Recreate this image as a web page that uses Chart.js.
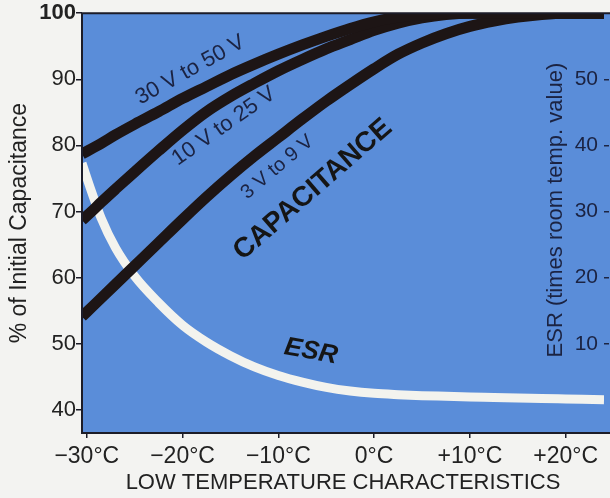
<!DOCTYPE html>
<html>
<head>
<meta charset="utf-8">
<script src="https://cdn.jsdelivr.net/npm/chart.js@4/dist/chart.umd.min.js"></script>
<style>
  html, body { margin: 0; padding: 0; background: #f3f3f1; }
  canvas { display: block; }
</style>
</head>
<body>
<canvas id="grafico" width="610" height="498"></canvas>
<script>
const temps = [-30.5, -29.5, -28.5, -27, -25, -22.5, -20, -17.5, -15, -12.5, -10, -7.5, -5, -2.5, 0, 2.5, 5, 7.5, 10, 12.5, 15, 17.5, 20, 24];

// % of initial capacitance
const cap30to50 = [78.7, 79.5, 80.3, 81.6, 83.2, 85.1, 87.1, 88.9, 90.7, 92.3, 93.8, 95.2, 96.5, 97.7, 98.7, 99.4, 99.8, 100, 100, 100, 100, 100, 100, 100];
const cap10to25 = [68.7, 70.0, 71.4, 73.4, 76.0, 79.2, 82.3, 85.1, 87.4, 89.4, 91.3, 93.0, 94.6, 96.0, 97.4, 98.5, 99.3, 99.8, 100, 100, 100, 100, 100, 100];
const cap3to9 = [54.1, 55.5, 56.9, 59.0, 61.8, 65.3, 68.8, 72.2, 75.4, 78.4, 81.2, 84.0, 86.7, 89.2, 91.6, 93.8, 95.5, 96.9, 98.0, 98.8, 99.4, 99.8, 100, 100];

// ESR, times room temp. value
const esr = [37.3, 33.0, 29.0, 24.5, 20.2, 16.2, 12.8, 10.25, 8.2, 6.5, 5.2, 4.2, 3.4, 2.85, 2.5, 2.3, 2.15, 2.05, 1.95, 1.88, 1.8, 1.73, 1.65, 1.52];

// axis ticks
const tempTicks = [-30, -20, -10, 0, 10, 20];
const tempTickLabels = ["−30°C", "−20°C", "−10°C", "0°C", "+10°C", "+20°C"];
const capTicks = [40, 50, 60, 70, 80, 90, 100];
const esrTicks = [10, 20, 30, 40, 50];

const fonte = "'Liberation Sans', Arial, sans-serif";

// labels written on the plot: [text, x (°C), y (% cap), angle, font, colour]
const rotulos = [
  ["30 V to 50 V", -19.2, 91.4, -29, "22px " + fonte, "#1b2342"],
  ["10 V to 25 V", -15.7, 82.9, -35, "22px " + fonte, "#1b2342"],
  ["3 V to 9 V", -10.1, 76.7, -40, "20px " + fonte, "#1b2342"],
  ["CAPACITANCE", -6.4, 73.3, -41, "bold 28px " + fonte, "#151515"],
  ["ESR", -6.6, 48.8, 10, "italic bold 26px " + fonte, "#151515"]
];

function serie(valores) {
  return temps.map((t, i) => ({ x: t, y: valores[i] }));
}

const fundo = {
  id: "fundo",
  beforeDraw(chart) {
    const { ctx, chartArea: a, width } = chart;
    ctx.save();
    ctx.fillStyle = "#5a8dd9";
    ctx.fillRect(a.left, a.top, width - a.left, a.bottom - a.top);
    ctx.restore();
  },
  afterDraw(chart) {
    const { ctx, chartArea: a, width, scales } = chart;
    ctx.save();
    // frame
    ctx.strokeStyle = "#1c1c28";
    ctx.lineWidth = 2;
    ctx.beginPath();
    ctx.moveTo(width, a.top);
    ctx.lineTo(a.left, a.top);
    ctx.lineTo(a.left, a.bottom);
    ctx.lineTo(width, a.bottom);
    ctx.stroke();

    // labels on the curves
    ctx.textAlign = "center";
    ctx.textBaseline = "middle";
    rotulos.forEach(([txt, t, v, ang, f, cor]) => {
      const px = scales.x.getPixelForValue(t);
      const py = scales.y.getPixelForValue(v);
      ctx.save();
      ctx.translate(px, py);
      ctx.rotate(ang * Math.PI / 180);
      ctx.font = f;
      ctx.fillStyle = cor;
      ctx.fillText(txt, 0, 0);
      ctx.restore();
    });

    // right axis title
    ctx.save();
    ctx.translate(556, (a.top + a.bottom) / 2 - 13);
    ctx.rotate(-Math.PI / 2);
    ctx.font = "22px " + fonte;
    ctx.fillStyle = "#1b2342";
    ctx.fillText("ESR (times room temp. value)", 0, 0);
    ctx.restore();
    ctx.restore();
  }
};

const ctx = document.getElementById("grafico").getContext("2d");

new Chart(ctx, {
  type: "line",
  data: {
    datasets: [
      { label: "30 V to 50 V", data: serie(cap30to50), yAxisID: "y", borderColor: "#1d1515", borderWidth: 11 },
      { label: "10 V to 25 V", data: serie(cap10to25), yAxisID: "y", borderColor: "#1d1515", borderWidth: 11 },
      { label: "3 V to 9 V", data: serie(cap3to9), yAxisID: "y", borderColor: "#1d1515", borderWidth: 11 },
      { label: "ESR", data: serie(esr), yAxisID: "y1", borderColor: "#f3f3ee", borderWidth: 9 }
    ]
  },
  options: {
    responsive: false,
    animation: false,
    clip: 0,
    layout: { padding: { top: 12, left: 0, right: 0, bottom: 0 } },
    elements: {
      point: { radius: 0 },
      line: { cubicInterpolationMode: "monotone", borderCapStyle: "butt" }
    },
    plugins: {
      legend: { display: false },
      tooltip: { enabled: false }
    },
    scales: {
      x: {
        type: "linear",
        min: -30.5,
        max: 24,
        afterBuildTicks: s => { s.ticks = tempTicks.map(v => ({ value: v })); },
        afterFit: s => { s.height = 65; },
        border: { display: false },
        grid: { drawOnChartArea: false, tickLength: 5, color: "#1c1c28", lineWidth: 1.5 },
        ticks: {
          autoSkip: false,
          maxRotation: 0,
          padding: 5,
          color: "#222",
          font: { family: fonte, size: 23 },
          callback: v => tempTickLabels[tempTicks.indexOf(v)]
        },
        title: {
          display: true,
          text: "LOW TEMPERATURE CHARACTERISTICS",
          color: "#222",
          font: { family: fonte, size: 22 },
          padding: { top: 0, bottom: 2 }
        }
      },
      y: {
        position: "left",
        min: 36.5,
        max: 100,
        afterBuildTicks: s => { s.ticks = capTicks.map(v => ({ value: v })); },
        afterFit: s => { s.width = 82; },
        border: { display: false },
        grid: { drawOnChartArea: false, tickLength: 6, color: "#1c1c28", lineWidth: 1.5 },
        ticks: {
          padding: 0,
          color: "#222",
          font: c => ({ family: fonte, size: 22, weight: c.tick && c.tick.value === 100 ? "bold" : "normal" })
        },
        title: {
          display: true,
          text: "% of Initial Capacitance",
          color: "#222",
          font: { family: fonte, size: 23 },
          padding: { top: 6, bottom: 0 }
        }
      },
      y1: {
        position: "right",
        min: -3.5,
        max: 60,
        afterBuildTicks: s => { s.ticks = esrTicks.map(v => ({ value: v })); },
        afterFit: s => { s.width = 6; },
        border: { display: false },
        grid: { drawOnChartArea: false, tickLength: 5, color: "#1c2544", lineWidth: 1.5 },
        ticks: {
          mirror: true,
          padding: -6,
          color: "#1b2342",
          font: { family: fonte, size: 21 }
        }
      }
    }
  },
  plugins: [fundo]
});
</script>
</body>
</html>
